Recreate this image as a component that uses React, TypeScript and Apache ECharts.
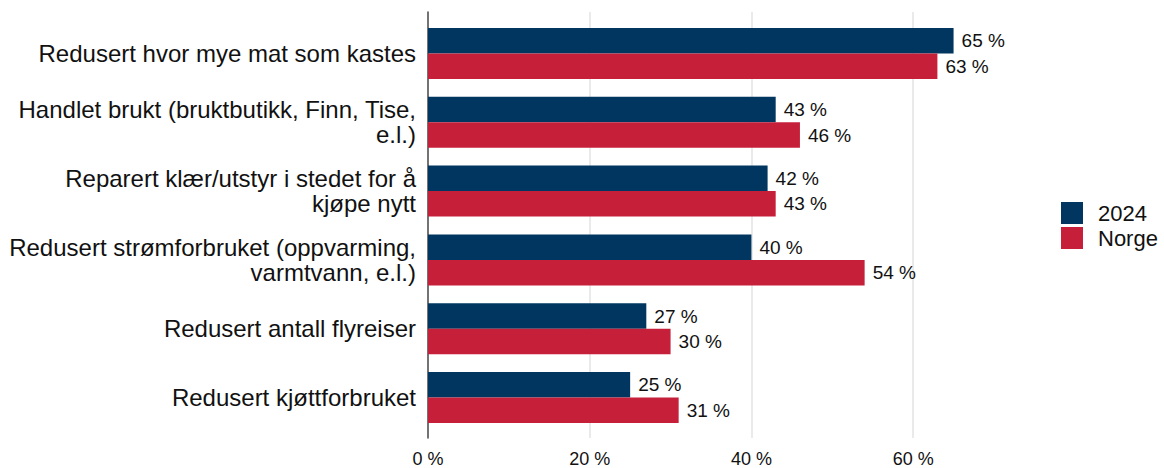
import React, { useEffect, useRef } from "react";
import * as echarts from "echarts";

const categories = [
  "Redusert hvor mye mat som kastes",
  "Handlet brukt (bruktbutikk, Finn, Tise,\ne.l.)",
  "Reparert klær/utstyr i stedet for å\nkjøpe nytt",
  "Redusert strømforbruket (oppvarming,\nvarmtvann, e.l.)",
  "Redusert antall flyreiser",
  "Redusert kjøttforbruket",
];
const values2024 = [65, 43, 42, 40, 27, 25];
const valuesNorge = [63, 46, 43, 54, 30, 31];
const seriesNames = ["2024", "Norge"];

const FONT = "'Liberation Sans', Arial, Helvetica, sans-serif";
const NAVY = "#00365f";
const RED = "#c61f3a";

export default function App() {
  const ref = useRef<HTMLDivElement>(null);
  useEffect(() => {
    if (!ref.current) return;
    const chart = echarts.init(ref.current, null, { renderer: "svg" });
    const labelCfg = {
      show: true,
      position: "right",
      distance: 8,
      formatter: "{c} %",
      fontSize: 19,
      color: "#111",
      fontFamily: FONT,
    };
    chart.setOption({
      animation: false,
      backgroundColor: "#ffffff",
      textStyle: { fontFamily: FONT },
      legend: {
        orient: "vertical",
        left: 1056,
        top: 197,
        itemWidth: 22,
        itemHeight: 22,
        itemGap: 3,
        icon: "rect",
        textStyle: {
          fontSize: 22,
          color: "#111",
          fontFamily: FONT,
          padding: [0, 0, 0, 10],
        },
        data: seriesNames,
      },
      grid: [
        { left: 428, right: 170, top: 12, bottom: 30 },
        { left: 428, right: 170, top: 19, bottom: 36 },
      ],
      xAxis: [
        {
          type: "value",
          gridIndex: 0,
          min: 0,
          max: 70,
          interval: 20,
          axisLine: { show: false },
          axisTick: { show: false },
          axisLabel: {
            formatter: "{value} %",
            fontSize: 18,
            color: "#111",
            margin: 12,
            showMaxLabel: false,
            fontFamily: FONT,
          },
          splitLine: {
            show: true,
            showMinLine: false,
            showMaxLine: false,
            lineStyle: { color: "#e3e3e3", width: 1.5 },
          },
        },
        {
          type: "value",
          gridIndex: 1,
          min: 0,
          max: 70,
          show: false,
          splitLine: { show: false },
        },
      ],
      yAxis: [
        {
          type: "value",
          gridIndex: 0,
          min: 0,
          max: 1,
          axisLine: { show: true, lineStyle: { color: "#444", width: 1.5 } },
          axisTick: { show: false },
          axisLabel: { show: false },
          splitLine: { show: false },
        },
        {
          type: "category",
          gridIndex: 1,
          inverse: true,
          data: categories,
          axisLine: { show: false },
          axisTick: { show: false },
          splitLine: { show: false },
          axisLabel: {
            fontSize: 24,
            color: "#111",
            margin: 12,
            lineHeight: 25,
            align: "right",
            fontFamily: FONT,
          },
        },
      ],
      series: [
        {
          name: seriesNames[0],
          type: "bar",
          xAxisIndex: 1,
          yAxisIndex: 1,
          data: values2024,
          barWidth: 25.5,
          barGap: "0%",
          itemStyle: { color: NAVY },
          label: labelCfg,
        },
        {
          name: seriesNames[1],
          type: "bar",
          xAxisIndex: 1,
          yAxisIndex: 1,
          data: valuesNorge,
          barWidth: 25.5,
          barGap: "0%",
          itemStyle: { color: RED },
          label: labelCfg,
        },
      ],
    });
    return () => chart.dispose();
  }, []);
  return (
    <div
      ref={ref}
      style={{ position: "fixed", left: 0, top: 0, width: 1164, height: 468 }}
    />
  );
}
